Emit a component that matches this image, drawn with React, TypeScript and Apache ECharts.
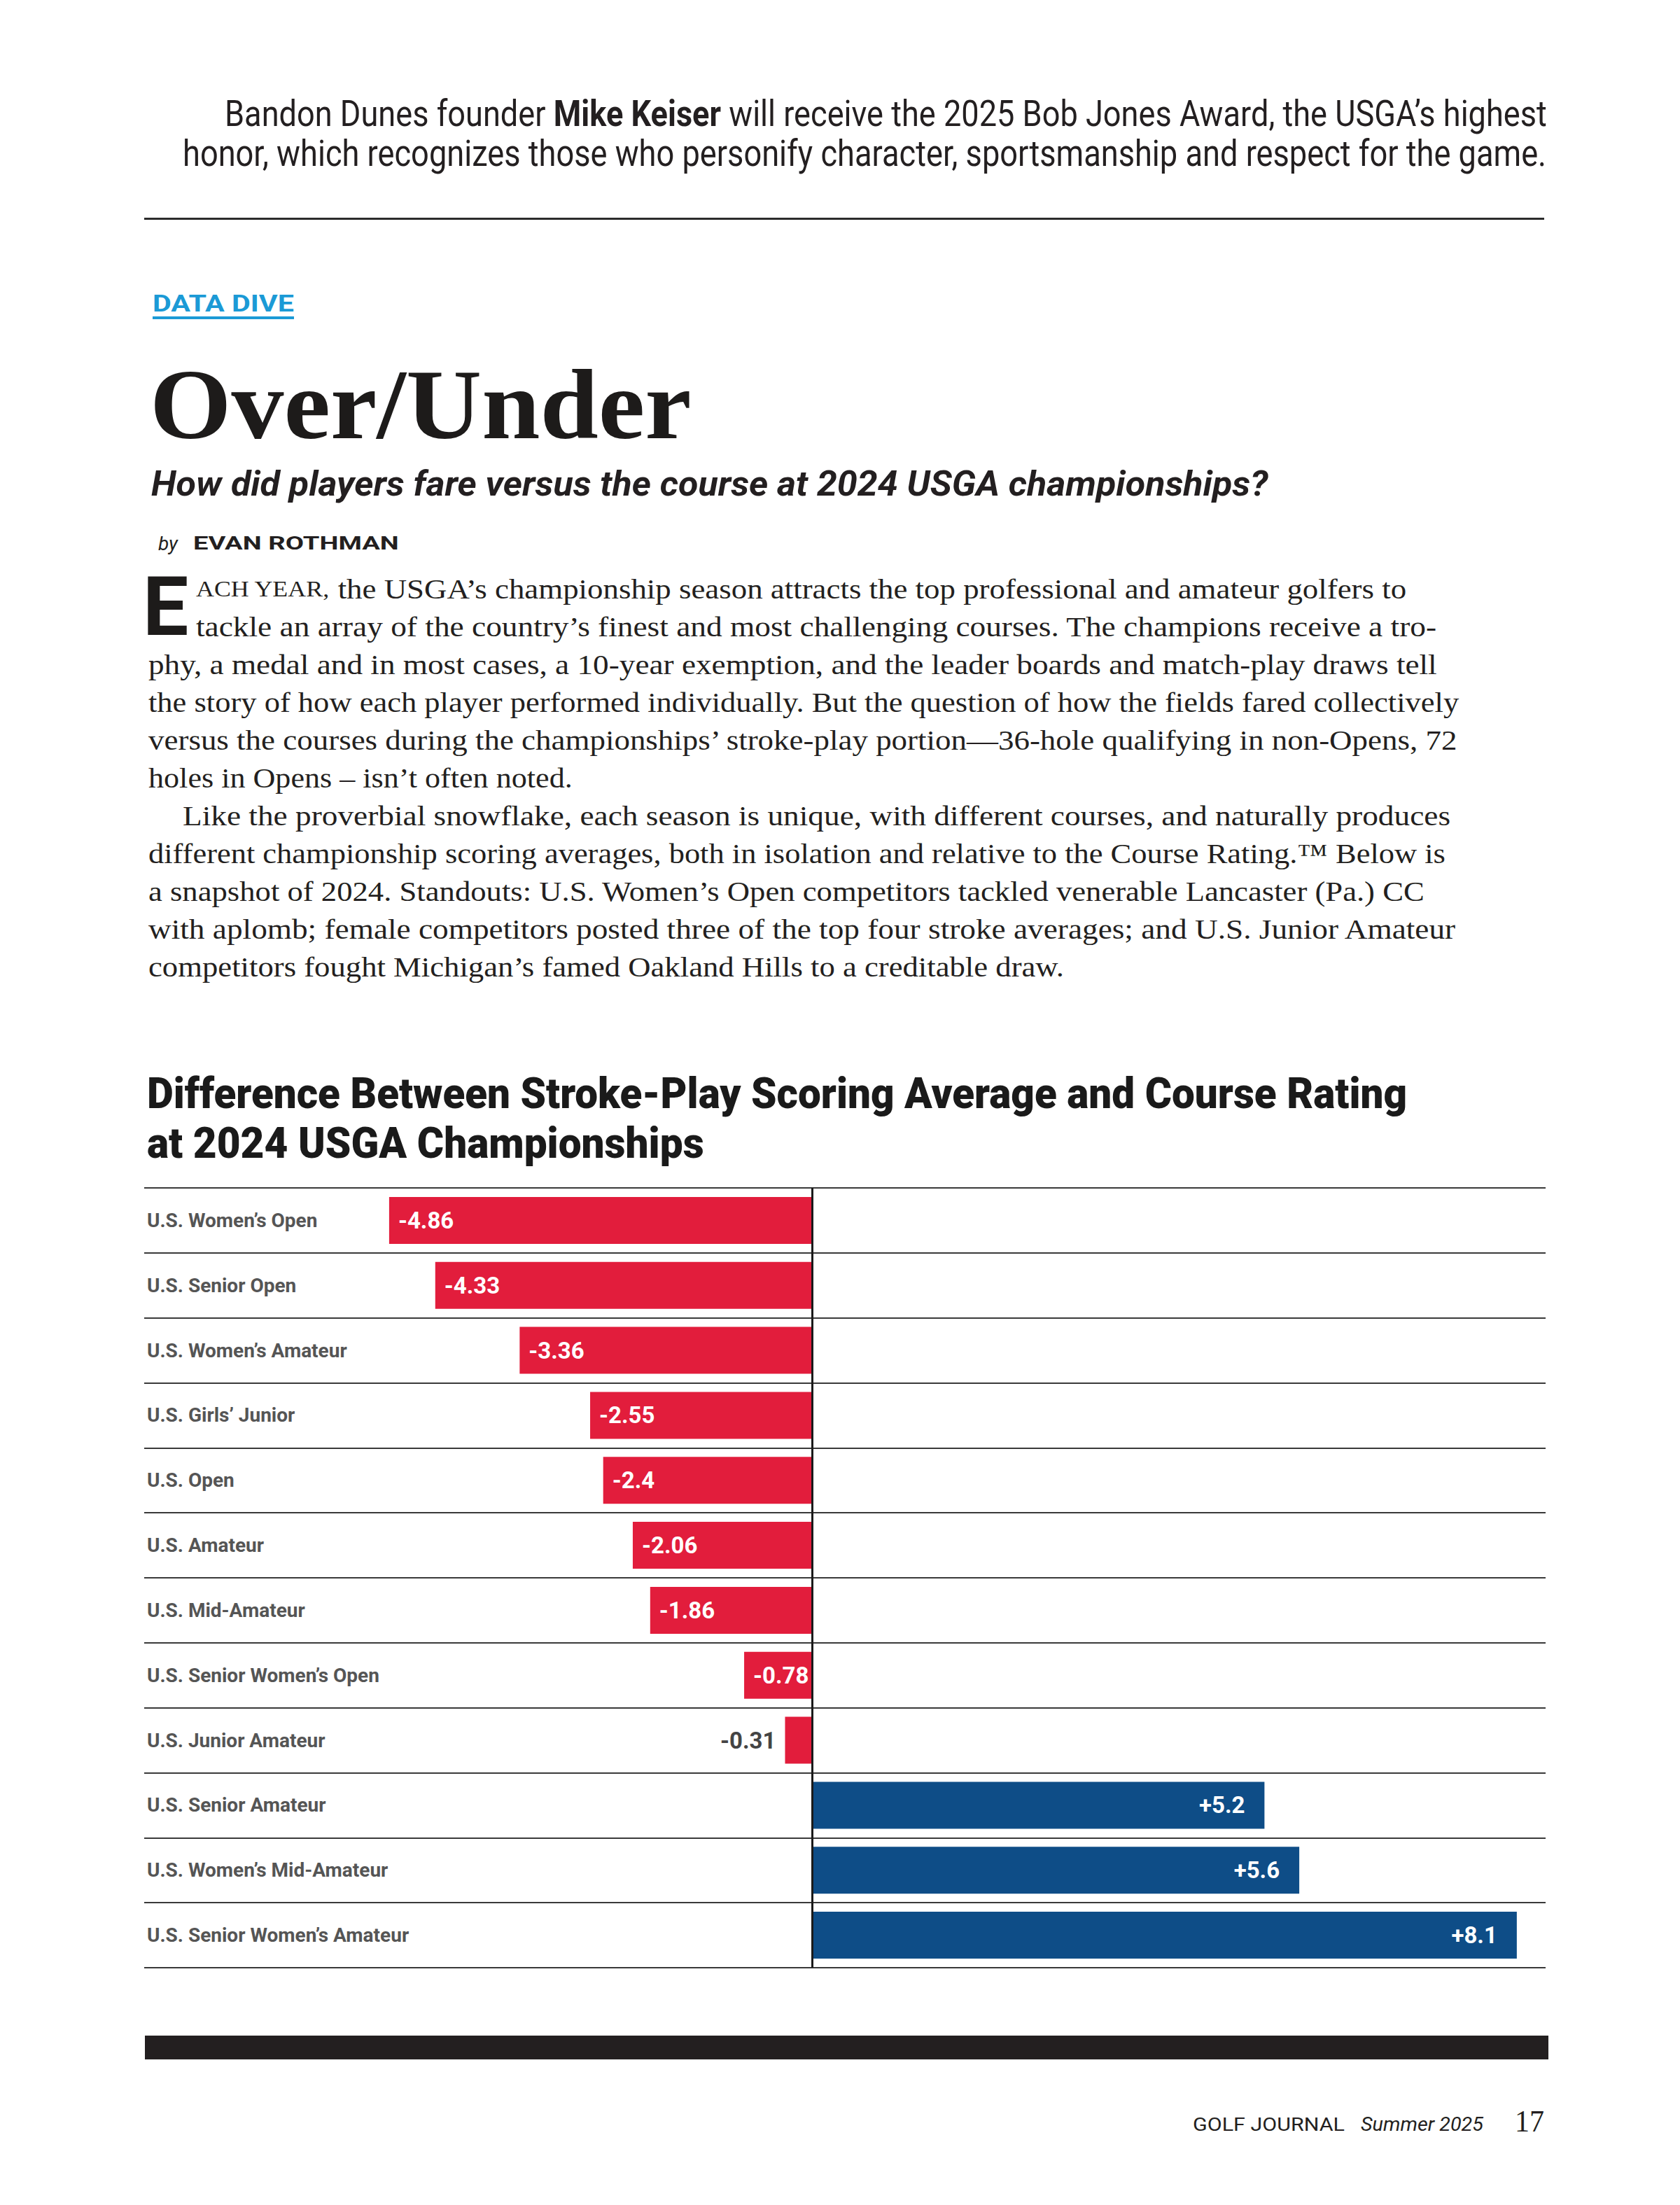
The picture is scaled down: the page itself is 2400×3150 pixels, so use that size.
import React, { useEffect, useRef } from "react";
import * as echarts from "echarts";

// ---------- data ----------
const categories = [
  "U.S. Women’s Open",
  "U.S. Senior Open",
  "U.S. Women’s Amateur",
  "U.S. Girls’ Junior",
  "U.S. Open",
  "U.S. Amateur",
  "U.S. Mid-Amateur",
  "U.S. Senior Women’s Open",
  "U.S. Junior Amateur",
  "U.S. Senior Amateur",
  "U.S. Women’s Mid-Amateur",
  "U.S. Senior Women’s Amateur",
];
const values = [-4.86, -4.33, -3.36, -2.55, -2.4, -2.06, -1.86, -0.78, -0.31, 5.2, 5.6, 8.1];

const introLine1 = ["Bandon Dunes founder ", "Mike Keiser", " will receive the 2025 Bob Jones Award, the USGA’s highest"];
const introLine2 = "honor, which recognizes those who personify character, sportsmanship and respect for the game.";
const kicker = "DATA DIVE";
const headline = "Over/Under";
const dek = "How did players fare versus the course at 2024 USGA championships?";
const bylineBy = "by";
const bylineName = "EVAN ROTHMAN";
const dropCap = "E";
const bodyLead = "ACH YEAR,";
const bodyLines = [
  " the USGA’s championship season attracts the top professional and amateur golfers to",
  "tackle an array of the country’s finest and most challenging courses. The champions receive a tro-",
  "phy, a medal and in most cases, a 10-year exemption, and the leader boards and match-play draws tell",
  "the story of how each player performed individually. But the question of how the fields fared collectively",
  "versus the courses during the championships’ stroke-play portion—36-hole qualifying in non-Opens, 72",
  "holes in Opens – isn’t often noted.",
  "Like the proverbial snowflake, each season is unique, with different courses, and naturally produces",
  "different championship scoring averages, both in isolation and relative to the Course Rating.™ Below is",
  "a snapshot of 2024. Standouts: U.S. Women’s Open competitors tackled venerable Lancaster (Pa.) CC",
  "with aplomb; female competitors posted three of the top four stroke averages; and U.S. Junior Amateur",
  "competitors fought Michigan’s famed Oakland Hills to a creditable draw.",
];
const chartTitle = ["Difference Between Stroke-Play Scoring Average and Course Rating", "at 2024 USGA Championships"];
const footerMag = "GOLF JOURNAL";
const footerIssue = "Summer 2025";
const footerPage = "17";

// ---------- layout (pixels) ----------
const bodyStarts = [280, 280, 212, 212, 212, 212, 261, 212, 212, 212, 212];
const bodyEnds = [2009, 2054, 2054, 2085, 2085, 818, 2072, 2066, 2036, 2082, 1521];
const RED = "#E21D3C";
const BLUE = "#0E4D87";
const INK = "#231f20";
const SANS = "Roboto";
const SERIF = '"Liberation Serif"';

type Seg = { text: string; size: number; family: string; weight?: string; style?: string; fill?: string };

export default function App() {
  const ref = useRef<HTMLDivElement>(null);

  useEffect(() => {
    if (!ref.current) return;
    const chart = echarts.init(ref.current, null, { renderer: "svg" });
    const canvas = document.createElement("canvas");
    const ctx = canvas.getContext("2d");
    const fontStr = (s: Seg) => `${s.style || "normal"} ${s.weight || "normal"} ${s.size}px ${s.family}`;
    const measure = (t: string, f: string) => {
      if (!ctx) return t.length * 10;
      ctx.font = f;
      return ctx.measureText(t).width;
    };

    const lineEls = (segs: Seg[], x: number, y: number, width: number | null, align: "left" | "right" = "left") => {
      const widths = segs.map((s) => measure(s.text, fontStr(s)));
      const total = widths.reduce((a, b) => a + b, 0);
      const sc = width && total > 0 ? width / total : 1;
      let cx = align === "right" ? x - total * sc : x;
      const els: any[] = [];
      segs.forEach((s, i) => {
        const trimmed = s.text.replace(/^\s+/, "");
        const lead = s.text.length - trimmed.length;
        const leadW = lead > 0 ? measure(s.text.slice(0, lead), fontStr(s)) * sc : 0;
        els.push({
          type: "text",
          x: cx + leadW,
          y,
          scaleX: sc,
          silent: true,
          style: {
            text: trimmed.replace(/\s+$/, ""),
            fontSize: s.size,
            fontFamily: s.family,
            fontWeight: s.weight || "normal",
            fontStyle: s.style || "normal",
            fill: s.fill || INK,
            textAlign: "left",
            textVerticalAlign: "middle",
            align: "left",
            verticalAlign: "middle",
          },
        });
        cx += widths[i] * sc;
      });
      return els;
    };

    const graphics: any[] = [];
    // intro
    graphics.push(
      ...lineEls(
        [
          { text: introLine1[0], size: 52, family: SANS },
          { text: introLine1[1], size: 52, family: SANS, weight: "bold" },
          { text: introLine1[2], size: 52, family: SANS },
        ],
        2210,
        162,
        1889,
        "right"
      )
    );
    graphics.push(...lineEls([{ text: introLine2, size: 52, family: SANS }], 2210, 219, 1949, "right"));
    graphics.push({ type: "rect", silent: true, shape: { x: 206, y: 311, width: 2000, height: 3 }, style: { fill: "#2b2b2b" } });

    // kicker
    graphics.push(...lineEls([{ text: kicker, size: 34, family: SANS, weight: "bold", fill: "#1B9AD6" }], 218, 433, 202));
    graphics.push({ type: "rect", silent: true, shape: { x: 218, y: 452, width: 202, height: 4 }, style: { fill: "#1B9AD6" } });

    // headline
    graphics.push(...lineEls([{ text: headline, size: 142, family: SERIF, weight: "bold", fill: "#1d1b1a" }], 214, 578, 774));
    graphics.push(...lineEls([{ text: dek, size: 50, family: SANS, weight: "bold", style: "italic" }], 216, 691, 1596));
    graphics.push(...lineEls([{ text: bylineBy, size: 28, family: SANS, style: "italic" }], 226, 776, null));
    graphics.push(...lineEls([{ text: bylineName, size: 26, family: SANS, weight: "bold" }], 276, 776, 294));

    // drop cap
    graphics.push(...lineEls([{ text: dropCap, size: 116, family: SANS, weight: "bold", fill: "#1d1b1a" }], 204, 867, null));

    // body
    bodyLines.forEach((ln, i) => {
      const y = 841 + 54 * i;
      const w = bodyEnds[i] - bodyStarts[i];
      if (i === 0) {
        graphics.push(
          ...lineEls(
            [
              { text: bodyLead, size: 32, family: SERIF },
              { text: ln, size: 40, family: SERIF },
            ],
            bodyStarts[i],
            y,
            w
          )
        );
      } else {
        graphics.push(...lineEls([{ text: ln, size: 40, family: SERIF }], bodyStarts[i], y, w));
      }
    });

    // chart title
    graphics.push(...lineEls([{ text: chartTitle[0], size: 62, family: SANS, weight: "900", fill: "#1a1a1a" }], 210, 1562, 1801));
    graphics.push(...lineEls([{ text: chartTitle[1], size: 62, family: SANS, weight: "900", fill: "#1a1a1a" }], 210, 1633, 796));

    // footer
    graphics.push({ type: "rect", silent: true, shape: { x: 207, y: 2908, width: 2005, height: 34 }, style: { fill: "#231f20" } });
    graphics.push(...lineEls([{ text: footerMag, size: 25, family: SANS }], 1704, 3035, 217));
    graphics.push(...lineEls([{ text: footerIssue, size: 27, family: SANS, style: "italic" }], 1944, 3035, 175));
    graphics.push(...lineEls([{ text: footerPage, size: 44, family: SERIF }], 2164, 3030, 42));

    const barData = values.map((v) => {
      const small = Math.abs(v) < 0.5;
      return {
        value: v,
        itemStyle: { color: v < 0 ? RED : BLUE },
        label: {
          position: v < 0 ? (small ? "left" : "insideLeft") : "insideRight",
          distance: v > 0 ? 28 : 13,
          color: small ? "#444" : "#fff",
        },
      };
    });

    const option: any = {
      animation: false,
      backgroundColor: "#fff",
      grid: { left: 206, top: 1697, width: 2002, height: 1114, containLabel: false },
      xAxis: {
        type: "value",
        min: -7.675,
        max: 8.431,
        show: false,
        splitLine: { show: false },
      },
      yAxis: {
        type: "category",
        data: categories,
        inverse: true,
        axisLine: { show: false },
        axisTick: { show: false },
        axisLabel: {
          inside: true,
          margin: 4,
          fontFamily: SANS,
          fontWeight: "bold",
          fontSize: 28,
          color: "#555",
        },
        splitLine: { show: true, lineStyle: { color: "#3a3a3a", width: 2 } },
      },
      series: [
        {
          type: "bar",
          data: barData,
          barWidth: 67,
          label: {
            show: true,
            fontFamily: SANS,
            fontWeight: "bold",
            fontSize: 33,
            formatter: (p: any) => (p.value > 0 ? "+" : "") + p.value,
          },
          markLine: {
            silent: true,
            symbol: "none",
            label: { show: false },
            lineStyle: { color: "#1a1a1a", width: 3, type: "solid" },
            data: [{ xAxis: 0 }],
          },
        },
      ],
      graphic: { elements: graphics },
    };
    chart.setOption(option);
    return () => chart.dispose();
  }, []);

  return (
    <div
      ref={ref}
      style={{ position: "absolute", left: 0, top: 0, width: 2400, height: 3150, background: "#fff" }}
    />
  );
}
